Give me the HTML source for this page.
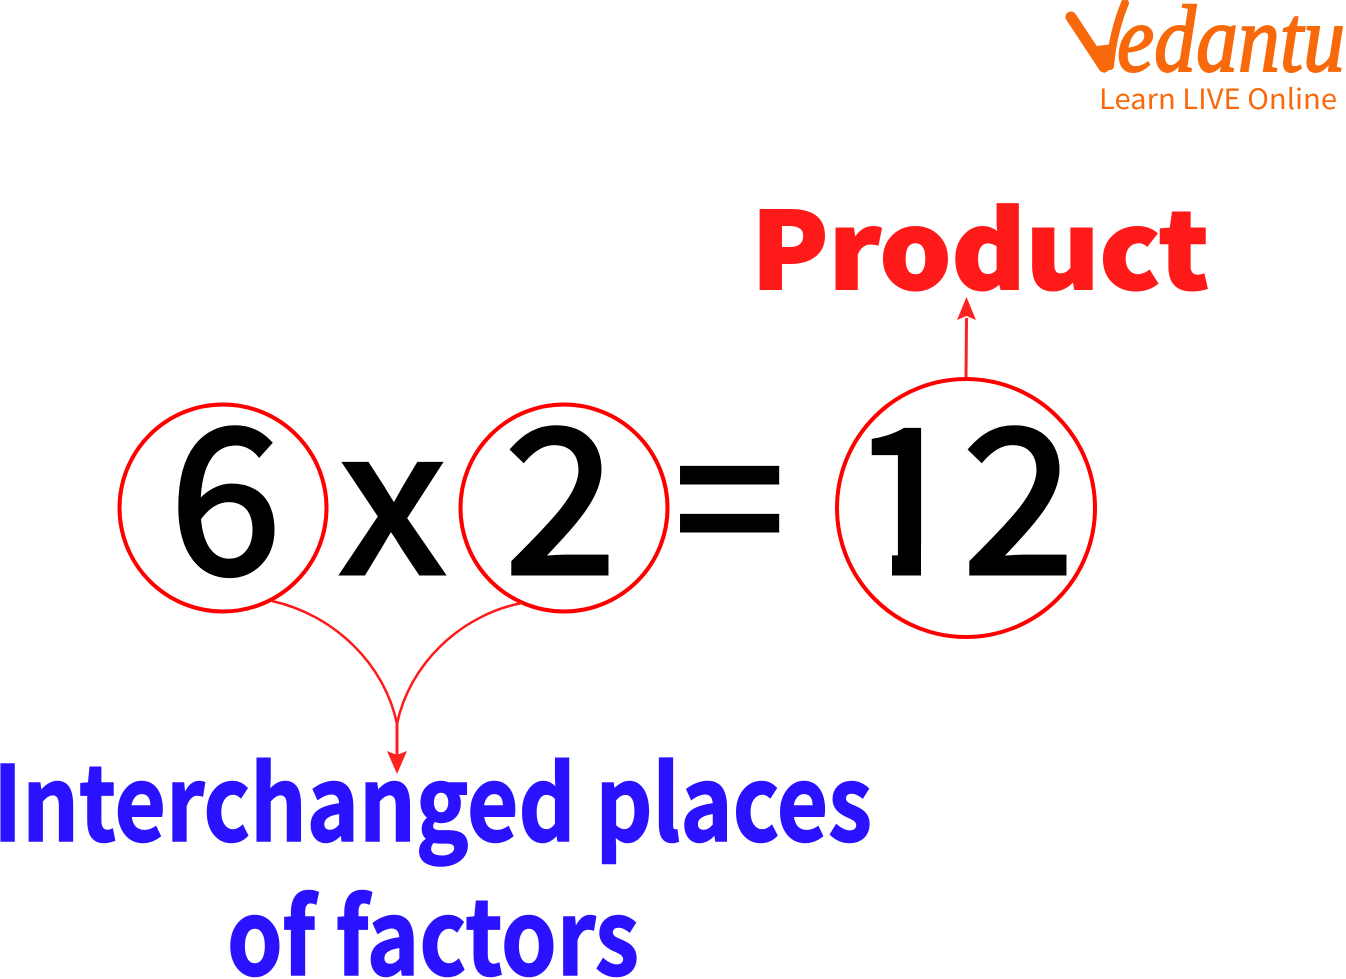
<!DOCTYPE html>
<html><head><meta charset="utf-8"><style>
html,body{margin:0;padding:0;background:#fff}
svg{display:block}
</style></head><body>
<svg width="1346" height="979" viewBox="0 0 1346 979" xmlns="http://www.w3.org/2000/svg">
<defs>
<clipPath id="one"><path d="M840 400 H940 V545 H921 V590 H892 V545 H840 Z"/></clipPath>
</defs>
<rect width="1346" height="979" fill="#fff"/>
<!-- logo -->
<path d="M1071 17 L1104 67" fill="none" stroke="#f7690a" stroke-width="11" stroke-linecap="round"/>
<path d="M1125 3 Q1113 32 1110 66" fill="none" stroke="#f7690a" stroke-width="8" stroke-linecap="round"/>
<path d="M1097 46 L1113 44 L1112 68 L1104 73 Z" fill="#f7690a"/>
<text x="1117" y="71" font-family="'Liberation Serif',serif" font-style="italic" font-size="95" fill="#f7690a" stroke="#f7690a" stroke-width="2" textLength="228" lengthAdjust="spacingAndGlyphs">edantu</text>
<text x="1099" y="109" font-family="'Noto Sans CJK JP','Liberation Sans',sans-serif" font-size="28" fill="#f7690a" textLength="238" lengthAdjust="spacingAndGlyphs">Learn LIVE Online</text>
<!-- product -->
<text x="751" y="289" font-family="'Noto Sans CJK JP','Liberation Sans',sans-serif" font-weight="900" font-size="106" fill="#ff1a1a" stroke="#ff1a1a" stroke-width="2" textLength="458" lengthAdjust="spacingAndGlyphs">Product</text>
<path d="M966 378 L966.500 318" stroke="#ff2020" stroke-width="3" fill="none"/>
<path d="M966.500 297 L976 320 L966.500 316 L957 320 Z" fill="#ff2020"/>
<!-- circles -->
<circle cx="223" cy="508" r="103.500" fill="none" stroke="#f00" stroke-width="4"/>
<circle cx="564" cy="508" r="103.500" fill="none" stroke="#f00" stroke-width="4"/>
<circle cx="966" cy="508" r="129" fill="none" stroke="#f00" stroke-width="4"/>
<!-- equation -->
<g font-family="'Noto Sans CJK JP','Liberation Sans',sans-serif" font-size="200" fill="#000" stroke="#000" stroke-width="5">
<text x="170" y="573">6</text>
<text x="340" y="573" textLength="105" lengthAdjust="spacingAndGlyphs">x</text>
<text x="505" y="573">2</text>
<text x="675" y="573" textLength="109" lengthAdjust="spacingAndGlyphs">=</text>
<g clip-path="url(#one)"><text x="850" y="573">1</text></g>
<text x="963" y="573">2</text>
</g>
<!-- curves -->
<path d="M272 601 C335 615 385 665 397 724 C409 665 460 615 522 603" fill="none" stroke="#ff1a1a" stroke-width="2.500"/>
<path d="M397 722 L397 755" stroke="#ff2020" stroke-width="3" fill="none"/>
<path d="M397 774 L387 751 L397 755 L407 751 Z" fill="#ff2020"/>
<!-- blue text -->
<g font-family="'Noto Sans CJK JP','Liberation Sans',sans-serif" font-weight="bold" font-size="104" fill="#2a12ff" stroke="#2a12ff" stroke-width="1.500">
<text x="-7" y="841" textLength="879" lengthAdjust="spacingAndGlyphs">Interchanged places</text>
<text x="227" y="975" textLength="412" lengthAdjust="spacingAndGlyphs">of factors</text>
</g>
</svg>
</body></html>
